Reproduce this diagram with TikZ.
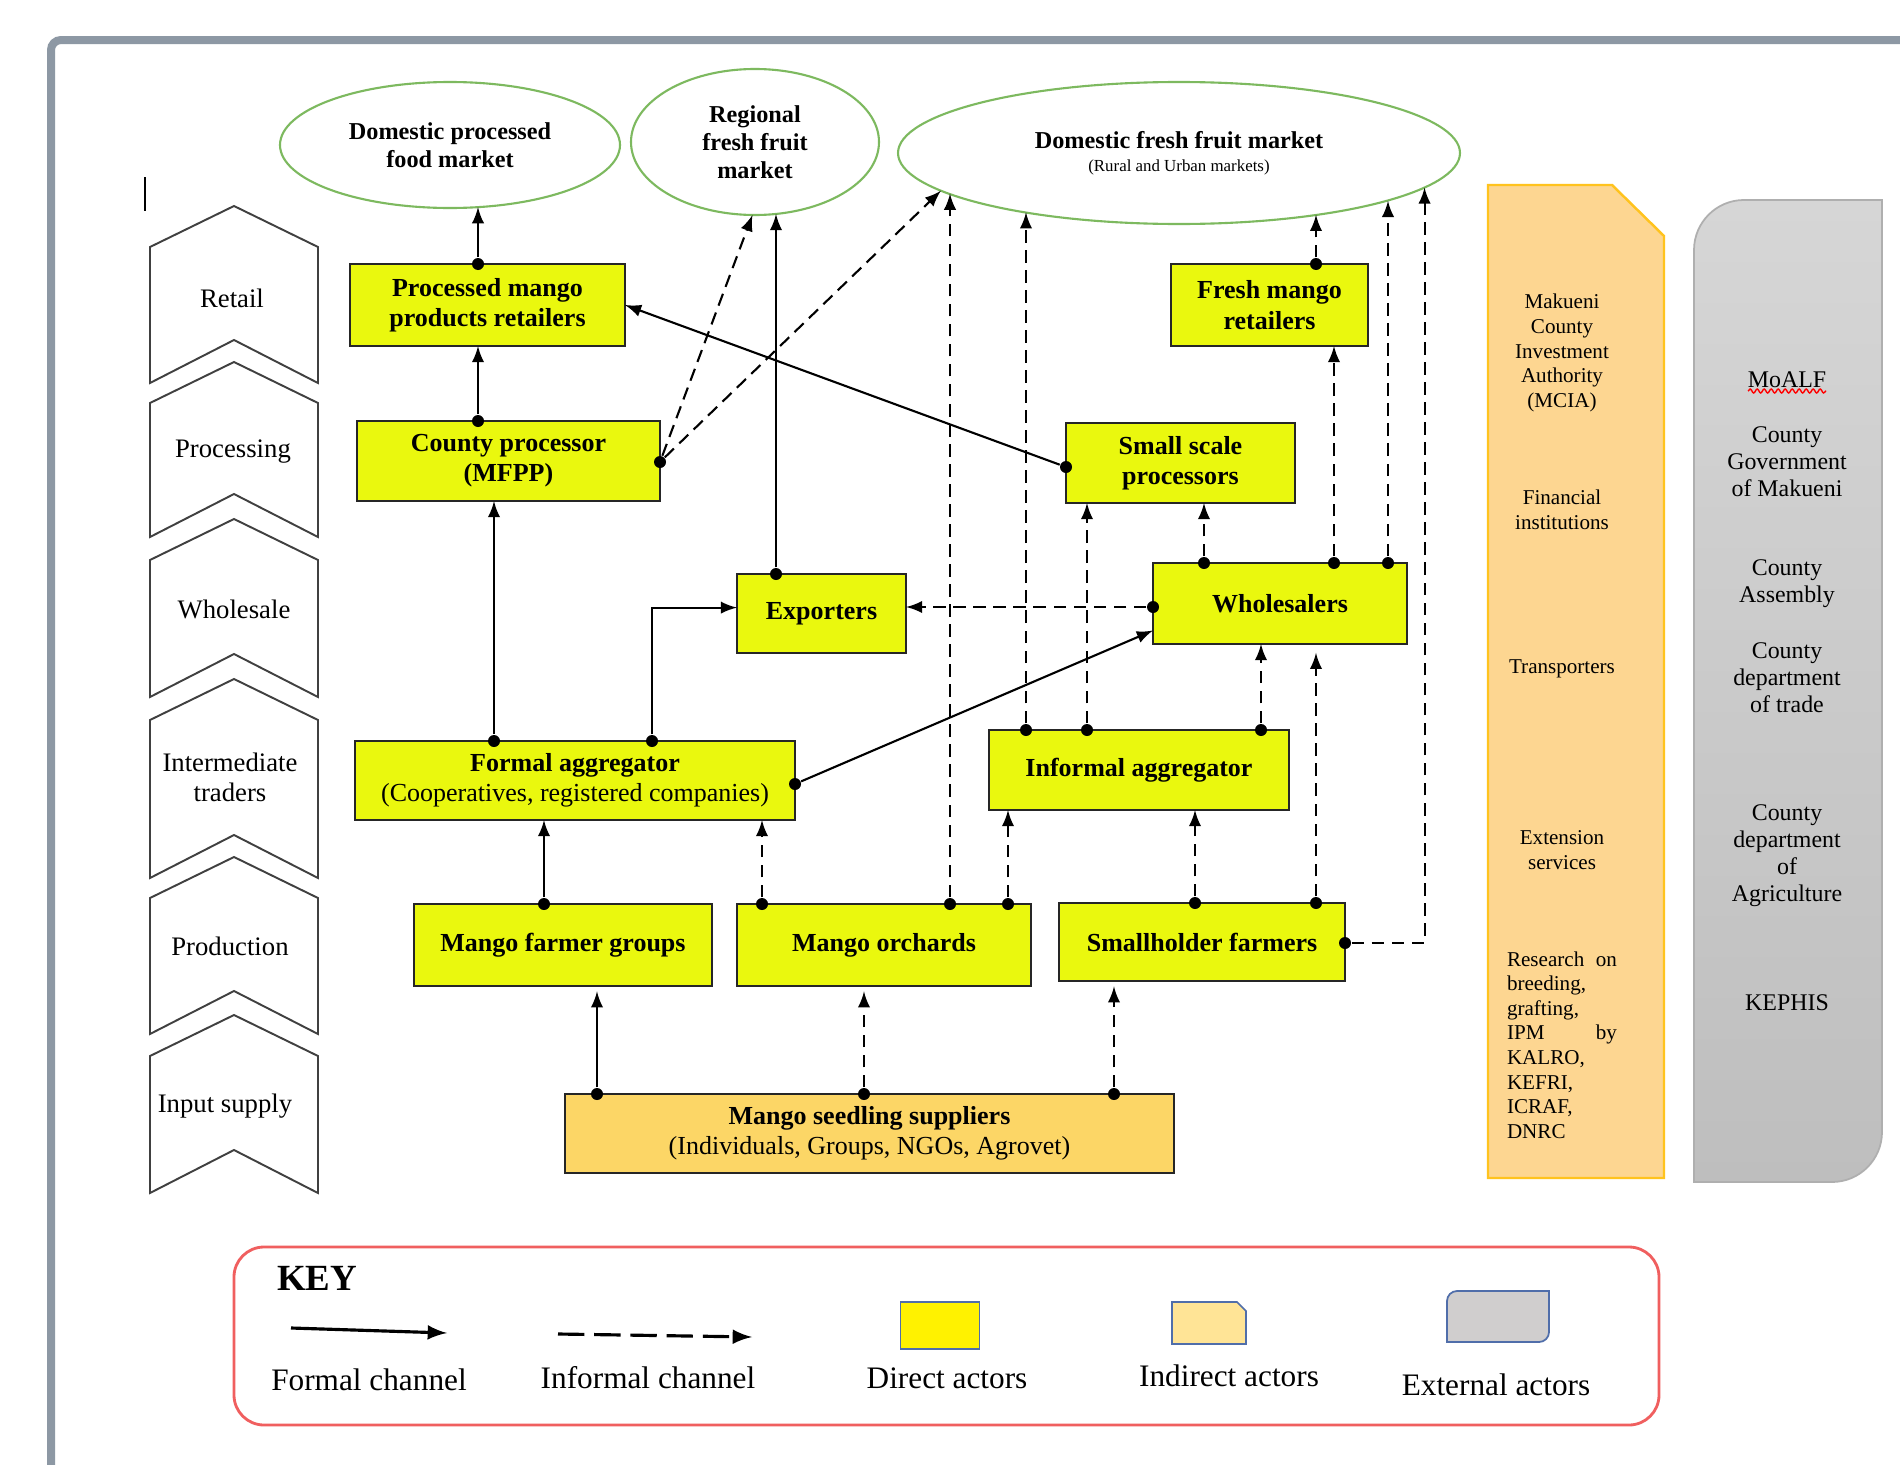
\documentclass[tikz,border=0pt]{standalone}
\usepackage{fontspec}
\setmainfont{Liberation Serif}
\usetikzlibrary{arrows}
\usetikzlibrary{shapes}
\usetikzlibrary{decorations.pathmorphing}

\definecolor{actorYellow}{RGB}{234,248,14}
\definecolor{seedOrange}{RGB}{252,214,102}
\definecolor{marketGreen}{RGB}{125,185,95}
\definecolor{frameGray}{RGB}{141,152,164}
\definecolor{indirectFill}{RGB}{253,214,145}
\definecolor{indirectLine}{RGB}{255,195,30}
\definecolor{externalTop}{RGB}{214,214,214}
\definecolor{externalBottom}{RGB}{190,190,190}
\definecolor{externalLine}{RGB}{175,175,175}
\definecolor{keyRed}{RGB}{240,95,95}
\definecolor{legendBlue}{RGB}{80,110,170}
\definecolor{legendIndirect}{RGB}{255,228,150}
\definecolor{legendExternal}{RGB}{208,206,206}

\begin{document}
\begin{tikzpicture}[x = 0.1mm, y = -0.1mm, font = \rmfamily]
\tikzstyle{directStyle} = [shape = rectangle, draw = black!85, line width = 0.7pt, fill = actorYellow, outer sep = 0pt, inner sep = 1pt, align = center, font = \fontsize{7.4pt}{8.6pt}\selectfont\bfseries]
\tikzstyle{marketStyle} = [shape = ellipse, draw = marketGreen, line width = 0.6pt, fill = white, outer sep = 0pt, inner sep = 0pt, align = center, font = \fontsize{6.9pt}{8pt}\selectfont\bfseries]
\tikzstyle{dotStyle} = [shape = circle, fill = black, inner sep = 0pt, minimum size = 1.2mm]
\tikzstyle{formalStyle} = [line width = 0.6pt, -latex]
\tikzstyle{informalStyle} = [line width = 0.6pt, dash pattern = on 3.6pt off 2.1pt, -latex]
\tikzstyle{stageStyle} = [draw = black!75, line width = 0.55pt, fill = white]
\tikzstyle{stageText} = [align = center, font = \fontsize{7.6pt}{8.6pt}\selectfont]
\tikzstyle{indirectText} = [align = center, font = \fontsize{6pt}{7pt}\selectfont]
\tikzstyle{externalText} = [align = center, font = \fontsize{6.8pt}{7.7pt}\selectfont]
\tikzstyle{keyText} = [font = \fontsize{8.9pt}{10pt}\selectfont]
\useasboundingbox (0,0) rectangle (1900,1465);
\fill[white] (0,0) rectangle (1900,1465);
\draw[frameGray, line width = 0.8mm, rounded corners = 1mm] (1900,40) -- (51,40) -- (51,1465);
\draw[line width = 0.5pt] (145,177) -- (145,211);
\draw[stageStyle] (150,247) -- (234,206) -- (318,247) -- (318,383) -- (234,340) -- (150,383) -- cycle;
\draw[stageStyle] (150,403) -- (234,362) -- (318,403) -- (318,537) -- (234,494) -- (150,537) -- cycle;
\draw[stageStyle] (150,560) -- (234,519) -- (318,560) -- (318,697) -- (234,654) -- (150,697) -- cycle;
\draw[stageStyle] (150,720) -- (234,679) -- (318,720) -- (318,878) -- (234,835) -- (150,878) -- cycle;
\draw[stageStyle] (150,898) -- (234,857) -- (318,898) -- (318,1034) -- (234,991) -- (150,1034) -- cycle;
\draw[stageStyle] (150,1056) -- (234,1015) -- (318,1056) -- (318,1193) -- (234,1150) -- (150,1193) -- cycle;
\node[stageText] (sRetail) at (232,298) {Retail};
\node[stageText] (sProc) at (233,452) {Processing};
\node[stageText] (sWhole) at (234,609) {Wholesale};
\node[stageText] (sInter) at (230,777) {Intermediate\\traders};
\node[stageText] (sProd) at (230,946) {Production};
\node[stageText] (sInput) at (225,1106) {Input supply};
\draw[draw = indirectLine, line width = 0.7pt, fill = indirectFill] (1488,185) -- (1612,185) -- (1664,236) -- (1664,1178) -- (1488,1178) -- cycle;
\draw[draw = externalLine, line width = 0.5pt, top color = externalTop, bottom color = externalBottom] (1694,1182) -- (1694,250) .. controls (1694,222.4) and (1716.4,200) .. (1744,200) -- (1882,200) -- (1882,1132) .. controls (1882,1159.6) and (1859.6,1182) .. (1832,1182) -- cycle;
\node[indirectText] (mcia) at (1562,353) {Makueni\\County\\Investment\\Authority\\(MCIA)};
\node[indirectText] (fin) at (1562,510) {Financial\\institutions};
\node[indirectText] (trans) at (1562,669) {Transporters};
\node[indirectText] (extserv) at (1562,850) {Extension\\services};
\node[indirectText, text width = 11mm, align = left] (research) at (1562,1045) {Research\hfill on\\breeding,\\grafting,\\IPM\hfill by\\KALRO,\\KEFRI,\\ICRAF,\\DNRC};
\node[externalText] (moalf) at (1787,380) {MoALF};
\draw[red, line width = 0.4pt, decorate, decoration = {snake, amplitude = 0.2mm, segment length = 0.7mm}] (1748,391) -- (1826,391);
\node[externalText] (cgov) at (1787,462) {County\\Government\\of Makueni};
\node[externalText] (cass) at (1787,584) {County\\Assembly};
\node[externalText] (ctrade) at (1787,678) {County\\department\\of trade};
\node[externalText] (cagri) at (1787,856) {County\\department\\of\\Agriculture};
\node[externalText] (kephis) at (1787,1003) {KEPHIS};
\node[marketStyle, minimum width = 34mm, minimum height = 12.6mm] (procmkt) at (450,145) {Domestic processed\\food market};
\node[marketStyle, minimum width = 24.8mm, minimum height = 14.6mm] (regmkt) at (755,142) {Regional\\fresh fruit\\market};
\node[marketStyle, minimum width = 56.2mm, minimum height = 14.2mm] (freshmkt) at (1179,153) {Domestic fresh fruit market\\[-1.5pt]{\fontsize{4.8pt}{5.5pt}\selectfont\mdseries (Rural and Urban markets)}};
\node[directStyle, minimum width = 27.5mm, minimum height = 8.2mm] (procret) at (487.5,305) {Processed mango\\products retailers};
\node[directStyle, minimum width = 30.3mm, minimum height = 8.0mm] (cproc) at (508.5,461) {County processor\\(MFPP)};
\node[directStyle, minimum width = 44.0mm, minimum height = 7.9mm] (formagg) at (575,780.5) {Formal aggregator\\{\mdseries (Cooperatives, registered companies)}};
\node[directStyle, minimum width = 16.9mm, minimum height = 7.9mm] (exp) at (821.5,613.5) {Exporters};
\node[directStyle, minimum width = 29.8mm, minimum height = 8.2mm] (farmgrp) at (563,945) {Mango farmer groups};
\node[directStyle, minimum width = 29.4mm, minimum height = 8.2mm] (orch) at (884,945) {Mango orchards};
\node[directStyle, minimum width = 28.6mm, minimum height = 7.8mm] (small) at (1202,942) {Smallholder farmers};
\node[directStyle, minimum width = 30.0mm, minimum height = 8.0mm] (infagg) at (1139,770) {Informal aggregator};
\node[directStyle, minimum width = 25.4mm, minimum height = 8.1mm] (wholes) at (1280,603.5) {Wholesalers};
\node[directStyle, minimum width = 22.9mm, minimum height = 8.0mm] (ssproc) at (1180.5,463) {Small scale\\processors};
\node[directStyle, minimum width = 19.7mm, minimum height = 8.2mm] (freshret) at (1269.5,305) {Fresh mango\\retailers};
\node[directStyle, fill = seedOrange, minimum width = 60.9mm, minimum height = 7.9mm] (seed) at (869.5,1133.5) {Mango seedling suppliers\\{\mdseries (Individuals, Groups, NGOs, Agrovet)}};
\node[dotStyle] (d1) at (478,264) {};
\node[dotStyle] (d2) at (478,421) {};
\node[dotStyle] (d3) at (494,741) {};
\node[dotStyle] (d4) at (652,741) {};
\node[dotStyle] (d5) at (795,784) {};
\node[dotStyle] (d6) at (776,574) {};
\node[dotStyle] (d7) at (1066,467) {};
\node[dotStyle] (d8) at (660,462) {};
\node[dotStyle] (d9) at (950,904) {};
\node[dotStyle] (d10) at (1008,904) {};
\node[dotStyle] (d11) at (1026,730) {};
\node[dotStyle] (d12) at (1087,730) {};
\node[dotStyle] (d13) at (1261,730) {};
\node[dotStyle] (d14) at (1204,563) {};
\node[dotStyle] (d15) at (1334,563) {};
\node[dotStyle] (d16) at (1388,563) {};
\node[dotStyle] (d17) at (1316,264) {};
\node[dotStyle] (d18) at (1153,607) {};
\node[dotStyle] (d19) at (1195,903) {};
\node[dotStyle] (d20) at (1316,903) {};
\node[dotStyle] (d21) at (1345,943) {};
\node[dotStyle] (d22) at (544,904) {};
\node[dotStyle] (d23) at (762,904) {};
\node[dotStyle] (d24) at (597,1094) {};
\node[dotStyle] (d25) at (864,1094) {};
\node[dotStyle] (d26) at (1114,1094) {};
\draw[formalStyle] (d1) -- (d1 |- procmkt.294);
\draw[formalStyle] (d2) -- (d2 |- procret.south);
\draw[formalStyle] (d3) -- (d3 |- cproc.south);
\draw[formalStyle] (d4) |- (exp.176);
\draw[formalStyle] (d5) -- (wholes.192);
\draw[formalStyle] (d6) -- (d6 |- regmkt.286);
\draw[formalStyle] (d7) -- (procret.east);
\draw[informalStyle] (d8) -- (regmkt.268);
\draw[informalStyle] (d8) -- (freshmkt.189);
\draw[informalStyle] (d9) -- (d9 |- freshmkt.190);
\draw[informalStyle] (d10) -- (d10 |- infagg.south);
\draw[informalStyle] (d11) -- (d11 |- freshmkt.201);
\draw[informalStyle] (d12) -- (d12 |- ssproc.south);
\draw[informalStyle] (d13) -- (d13 |- wholes.south);
\draw[informalStyle] (d14) -- (d14 |- ssproc.south);
\draw[informalStyle] (d15) -- (d15 |- freshret.south);
\draw[informalStyle] (d16) -- (d16 |- freshmkt.347);
\draw[informalStyle] (d17) -- (d17 |- freshmkt.336);
\draw[informalStyle] (d18) -- (d18 -| exp.east);
\draw[informalStyle] (d19) -- (d19 |- infagg.south);
\draw[informalStyle, shorten > = 2.5pt] (d20) -- (d20 |- wholes.south);
\draw[informalStyle] (d21) -| (freshmkt.352);
\draw[formalStyle] (d22) -- (d22 |- formagg.south);
\draw[informalStyle] (d23) -- (d23 |- formagg.south);
\draw[formalStyle, shorten > = 1.5pt] (d24) -- (d24 |- farmgrp.south);
\draw[informalStyle, shorten > = 1.5pt] (d25) -- (d25 |- orch.south);
\draw[informalStyle, shorten > = 1.5pt] (d26) -- (d26 |- small.south);
\draw[draw = keyRed, line width = 0.8pt, rounded corners = 3mm] (234,1247) rectangle (1659,1425);
\node[font = \fontsize{10.5pt}{12pt}\selectfont\bfseries] (keyTitle) at (317,1278) {KEY};
\coordinate (kf1) at (291,1328);
\coordinate (kf2) at (447,1333);
\draw[line width = 0.9pt, -latex] (kf1) -- (kf2);
\node[keyText] (kfText) at (369,1380) {Formal channel};
\coordinate (ki1) at (558,1334);
\coordinate (ki2) at (752,1337);
\draw[line width = 0.9pt, dash pattern = on 7.5pt off 2.8pt, -latex] (ki1) -- (ki2);
\node[keyText] (kiText) at (648,1378) {Informal channel};
\node[draw = legendBlue, line width = 0.4pt, fill = yellow, inner sep = 0pt, minimum width = 7.9mm, minimum height = 4.7mm] (kdBox) at (940,1325.5) {};
\node[keyText] (kdText) at (947,1378) {Direct actors};
\draw[draw = legendBlue, line width = 0.5pt, fill = legendIndirect] (1172,1302) -- (1237,1302) -- (1246,1311) -- (1246,1344) -- (1172,1344) -- cycle;
\node[keyText] (knText) at (1229,1376) {Indirect actors};
\draw[draw = legendBlue, line width = 0.5pt, fill = legendExternal] (1447,1342) -- (1447,1301) .. controls (1447,1295.5) and (1451.5,1291) .. (1457,1291) -- (1549,1291) -- (1549,1332) .. controls (1549,1337.5) and (1544.5,1342) .. (1539,1342) -- cycle;
\node[keyText] (keText) at (1496,1385) {External actors};
\end{tikzpicture}
\end{document}
